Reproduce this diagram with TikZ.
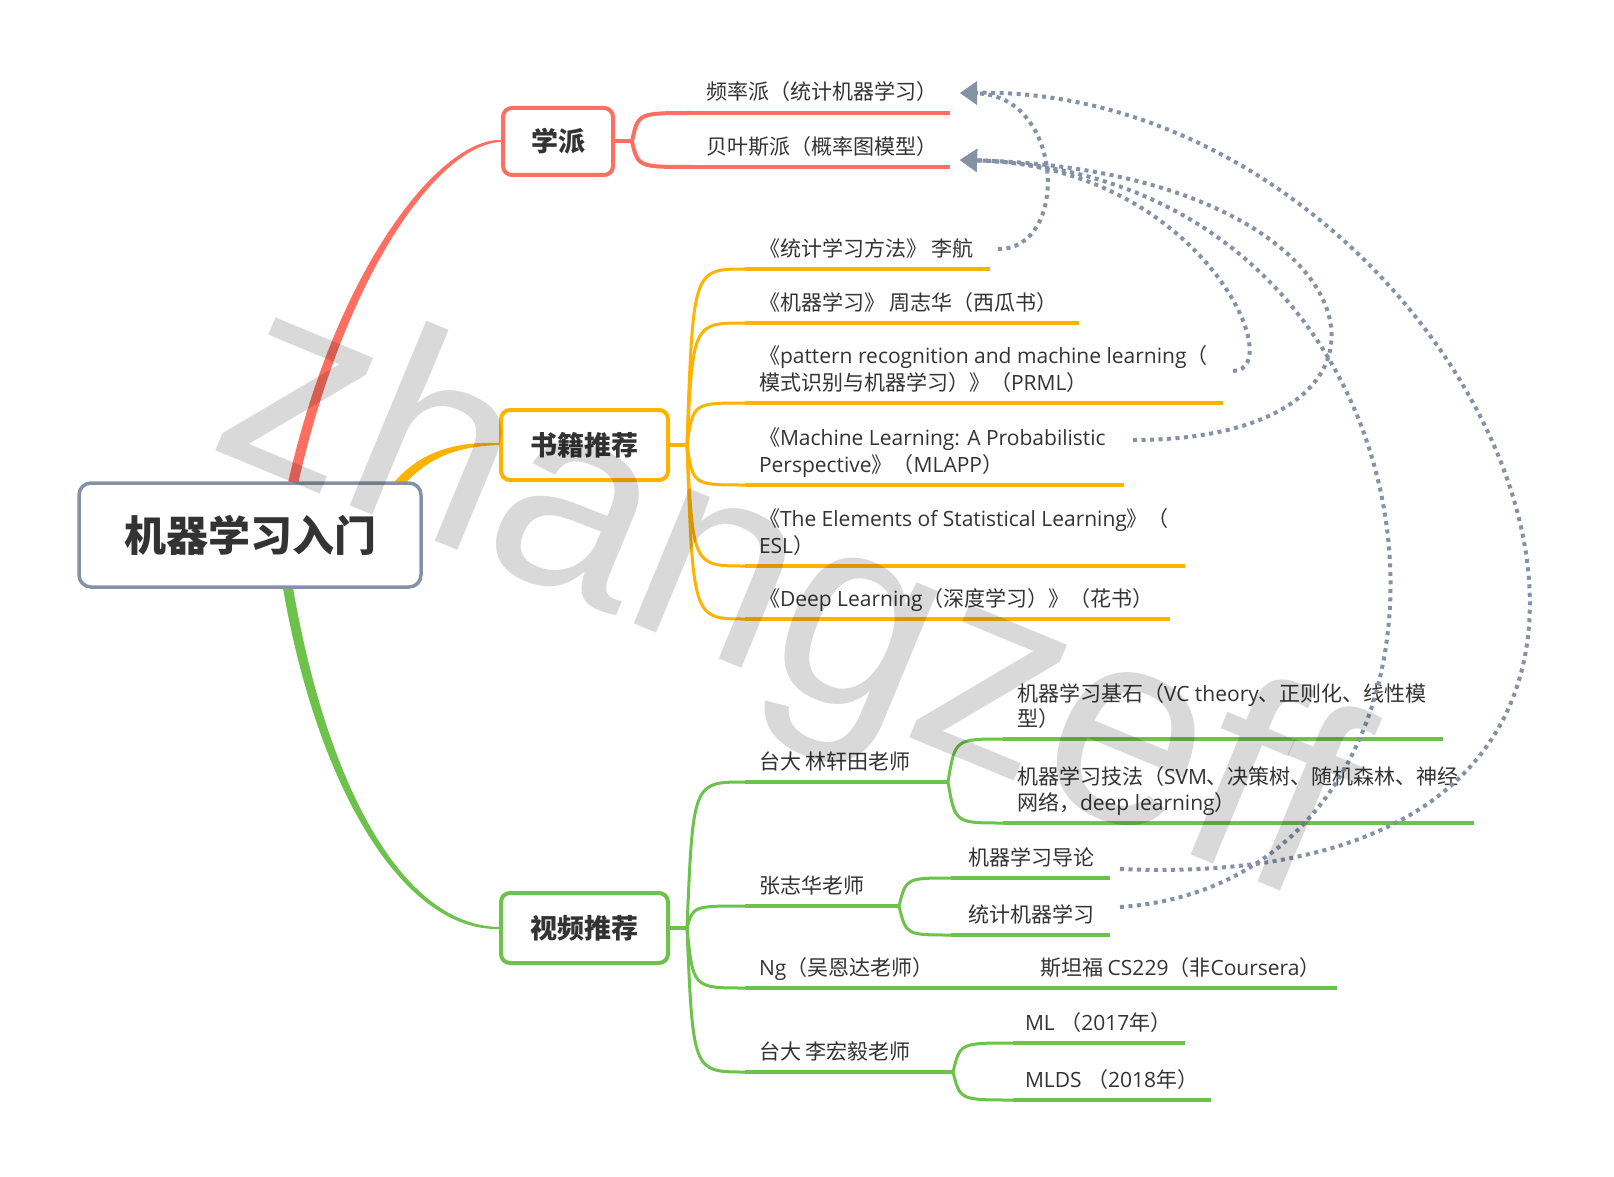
\documentclass[tikz,border=0pt]{standalone}
\usepackage{fontspec}
\setmainfont{Noto Sans CJK SC}
\newfontfamily\cjkf{Noto Sans CJK SC}
\newfontfamily\latf{Open Sans}
\newfontfamily\wmf{Liberation Sans}
\usetikzlibrary{arrows.meta,calc}
\XeTeXinterchartokenstate=1
\newXeTeXintercharclass\CJKcls
\newcount\cjkc
\cjkc="2E80
\loop
  \XeTeXcharclass\cjkc=\CJKcls
  \advance\cjkc by 1
\ifnum\cjkc<"A000 \repeat
\cjkc="FF00
\loop
  \XeTeXcharclass\cjkc=\CJKcls
  \advance\cjkc by 1
\ifnum\cjkc<"FFF0 \repeat
\XeTeXinterchartoks 0 \CJKcls = {\cjkf}
\XeTeXinterchartoks 4095 \CJKcls = {\cjkf}
\XeTeXinterchartoks \CJKcls 0 = {\latf}
\XeTeXinterchartoks 4095 0 = {\latf}
\definecolor{cred}{HTML}{FF6F61}
\definecolor{corg}{HTML}{FFB300}
\definecolor{cgrn}{HTML}{6CC24A}
\definecolor{cgry}{HTML}{8592A6}
\definecolor{txt}{HTML}{333333}
\newcommand\fsItem{\fontsize{21pt}{26pt}\selectfont}
\newcommand\fsTopic{\fontsize{27pt}{32pt}\selectfont}
\newcommand\fsRoot{\fontsize{42pt}{48pt}\selectfont}
\newcommand\fsWm{\fontsize{276pt}{276pt}\selectfont}
\begin{document}
\begin{tikzpicture}[x=1pt,y=-1pt,
  every node/.style={inner sep=0pt,outer sep=0pt},
  item/.style={anchor=base west,text=txt,font=\fsItem},
  topic/.style={draw=#1,fill=white,line width=4pt,rounded corners=9pt,text=txt,font=\fsTopic\bfseries},
  mm/.style={to path={.. controls ($(\tikztotarget -| \tikztostart)+(#1,0)$) and ($(\tikztotarget -| \tikztostart)+(#1,0)$) .. (\tikztotarget)}},
  mm/.default=8,
  bline/.style={draw=#1,line width=4pt},
  bcurve/.style={draw=#1,line width=3pt},
  rel/.style={draw=cgry,line width=4pt,dash pattern=on 4pt off 4.5pt,-{Triangle[length=17pt,width=22pt]}},
]
\useasboundingbox (0,0) rectangle (1614,1177);
\fill[white] (0,0) rectangle (1614,1177);

% ---- main tapered branches
\fill[cred] (296.9,489.1) .. controls (344.9,271.1) and (440,144) .. (501,142)
  -- (501,140) .. controls (440,138) and (335.1,268.9) .. (287.1,486.9) -- cycle;
\fill[corg] (399.5,489.9) .. controls (428.5,454.9) and (460,446.5) .. (499,445)
  -- (499,443) .. controls (460,441.5) and (421.5,449.1) .. (392.5,484.1) -- cycle;
\fill[cgrn] (291.9,581.2) .. controls (324.9,779.2) and (400,925) .. (499,927)
  -- (499,929) .. controls (400,931) and (315.1,780.8) .. (282.1,582.8) -- cycle;

% ---- root and topics
\node[draw=cgry,fill=white,line width=3.5pt,rounded corners=12pt,minimum width=342pt,minimum height=104pt,text=txt,font=\fsRoot\bfseries] (root) at (250,535) {机器学习入门};
\node[topic=cred,minimum width=110pt,minimum height=67pt] (t1) at (558,141.5) {学派};
\node[topic=corg,minimum width=167pt,minimum height=70pt] (t2) at (584.5,445) {书籍推荐};
\node[topic=cgrn,minimum width=167pt,minimum height=70pt] (t3) at (584.5,928) {视频推荐};

% ---- branch points
\coordinate (sk) at (632,141.5);
\coordinate (bk) at (687,445);
\coordinate (vk) at (687,928);
\draw[bline=cred] (t1.east) -- (sk);
\draw[bline=corg] (t2.east) -- (bk);
\draw[bline=cgrn] (t3.east) -- (vk);

% ---- school branch
\foreach \n/\y in {1/113,2/167} {
  \coordinate (ss\n) at (692,\y);
  \coordinate (se\n) at (950,\y);
  \draw[bcurve=cred,line width=4pt] (sk) to[mm=6] (ss\n);
  \draw[bline=cred] (ss\n) -- (se\n);
}
\node[item] (s1) at (706,100) {频率派（统计机器学习）};
\node[item] (s2) at (706,155) {贝叶斯派（概率图模型）};

% ---- book branch
\foreach \n/\y/\xe in {1/269/990,2/323/1079,3/403/1223,4/485/1124,5/566/1185,6/619/1170} {
  \coordinate (bs\n) at (745,\y);
  \coordinate (be\n) at (\xe,\y);
  \draw[bcurve=corg] (bk) to[mm=6] (bs\n);
  \draw[bline=corg] (bs\n) -- (be\n);
}
\node[item] (b1) at (759,256) {《统计学习方法》 李航};
\node[item] (b2) at (759,310) {《机器学习》 周志华（西瓜书）};
\node[item] (b3a) at (759,363.5) {《pattern recognition and machine learning（};
\node[item] (b3b) at (759,390) {模式识别与机器学习）》（PRML）};
\node[item] (b4a) at (759,445.5) {《Machine Learning: A Probabilistic};
\node[item] (b4b) at (759,472) {Perspective》（MLAPP）};
\node[item] (b5a) at (759,526.5) {《The Elements of Statistical Learning》（};
\node[item] (b5b) at (759,553) {ESL）};
\node[item] (b6) at (759,606) {《Deep Learning（深度学习）》（花书）};

% ---- video branch
\foreach \n/\y/\xe in {1/782/948,2/906/899,3/988/1337,4/1072/953} {
  \coordinate (vs\n) at (745,\y);
  \coordinate (ve\n) at (\xe,\y);
  \draw[bcurve=cgrn] (vk) to[mm=6] (vs\n);
  \draw[bline=cgrn] (vs\n) -- (ve\n);
}
\foreach \k/\n/\xs/\y/\xe in {1/a/1003/739/1443,1/b/1003/823/1474,2/a/951/878/1110,2/b/951/935/1110,4/a/1013/1043/1185,4/b/1013/1100/1211} {
  \coordinate (cs\k\n) at (\xs,\y);
  \coordinate (ce\k\n) at (\xe,\y);
  \draw[bcurve=cgrn] (ve\k) to[mm=7] (cs\k\n);
  \draw[bline=cgrn] (cs\k\n) -- (ce\k\n);
}
\node[item] (v1) at (759,769) {台大 林轩田老师};
\node[item] (v1a1) at (1017,701) {机器学习基石（VC theory、正则化、线性模};
\node[item] (v1a2) at (1017,726.5) {型）};
\node[item] (v1b1) at (1017,784) {机器学习技法（SVM、决策树、随机森林、神经};
\node[item] (v1b2) at (1017,810) {网络，deep learning）};
\node[item] (v2) at (759,893) {张志华老师};
\node[item] (v2a) at (968,865) {机器学习导论};
\node[item] (v2b) at (968,922) {统计机器学习};
\node[item] (v3) at (759,975) {Ng（吴恩达老师）};
\node[item] (v3a) at (1040,975) {斯坦福 CS229（非Coursera）};
\node[item] (v4) at (759,1059) {台大 李宏毅老师};
\node[item] (v4a) at (1025,1030) {ML （2017年）};
\node[item] (v4b) at (1025,1087) {MLDS （2018年）};

% ---- relationships
\coordinate (pinA) at (960,93);
\coordinate (pinB) at (960,160);
\coordinate (r1) at (998,249);
\coordinate (r2) at (1233,371);
\coordinate (r3) at (1133,440);
\coordinate (r4) at (1120,869);
\coordinate (r5) at (1120,907);
\draw[rel] (r1) .. controls (1070,250) and (1065,95) .. (pinA);
\draw[rel] (r4) .. controls (1850,900) and (1480,85) .. (pinA);
\draw[rel] (r2) .. controls (1290,370) and (1200,165) .. (pinB);
\draw[rel] (r3) .. controls (1450,440) and (1380,170) .. (pinB);
\draw[rel] (r5) .. controls (1520,880) and (1480,175) .. (pinB);

% ---- watermark
\node[anchor=base west,rotate=-22.5,text=black,opacity=0.15,font={\XeTeXinterchartokenstate=0 \wmf\fsWm}] (wm) at (205,446) {zhangzeff};
\end{tikzpicture}
\end{document}
